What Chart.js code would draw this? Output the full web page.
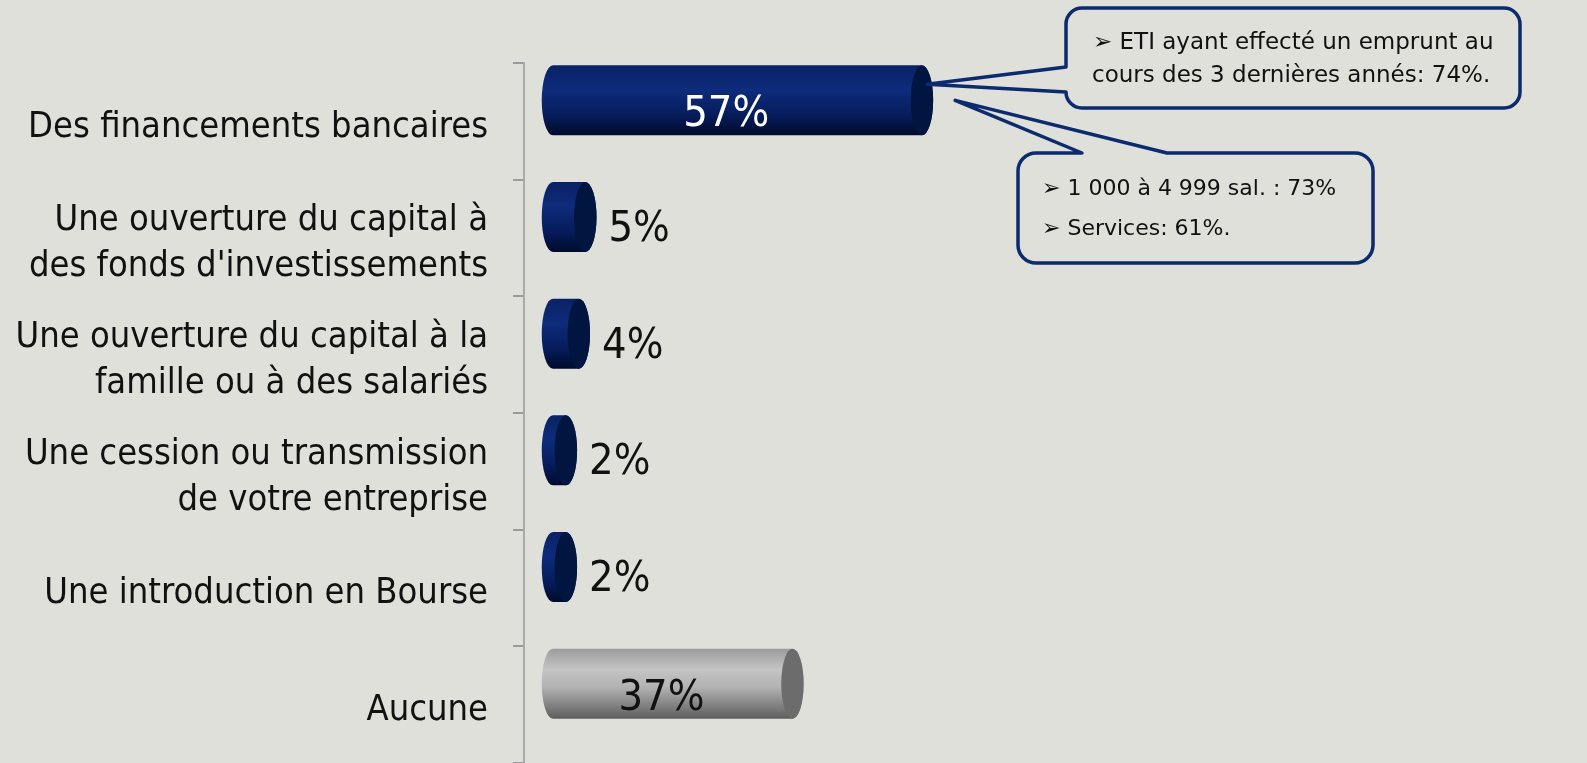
<!DOCTYPE html>
<html lang="fr">
<head>
<meta charset="utf-8">
<title>Financements</title>
<script src="https://cdn.jsdelivr.net/npm/chart.js@4.4.1/dist/chart.umd.min.js"></script>
<style>
    html, body { margin: 0; padding: 0; background: #dfe0da; }
    #wrap { width: 1587px; height: 763px; }
</style>
</head>
<body>
<div id="wrap"><canvas id="chart" width="1587" height="763"></canvas></div>
<script>
const categories = [
    'Des financements bancaires',
    ["Une ouverture du capital à", "des fonds d'investissements"],
    ['Une ouverture du capital à la', 'famille ou à des salariés'],
    ['Une cession ou transmission', 'de votre entreprise'],
    'Une introduction en Bourse',
    'Aucune'
];
const values = [57, 5, 4, 2, 2, 37];

const calloutTop = ['➢ ETI ayant effecté un emprunt au', 'cours des 3 dernières annés: 74%.'];
const calloutBottom = ['➢ 1 000 à 4 999 sal. : 73%', '➢ Services: 61%.'];

const BG = '#dfe0da';
const NAVY_EDGE = '#0c2a6e';
const FONT = '"DejaVu Sans Condensed", "DejaVu Sans", sans-serif';
const NOTE_FONT = '"DejaVu Sans", sans-serif';

function cylinderFill(ctx, top, h, grey) {
    const g = ctx.createLinearGradient(0, top, 0, top + h);
    if (grey) {
        g.addColorStop(0, '#9c9c9c');
        g.addColorStop(0.3, '#c4c4c4');
        g.addColorStop(0.55, '#b2b2b2');
        g.addColorStop(1, '#5e5e5e');
    } else {
        g.addColorStop(0, '#0a2264');
        g.addColorStop(0.35, '#0e2c7c');
        g.addColorStop(0.7, '#061c5c');
        g.addColorStop(1, '#000b2c');
    }
    return g;
}

// draws each bar as a horizontal cylinder, plus its value label
const cylinders = {
    id: 'cylinders',
    afterDatasetsDraw(chart) {
        const ctx = chart.ctx;
        const meta = chart.getDatasetMeta(0);
        meta.data.forEach((bar, i) => {
            const p = bar.getProps(['x', 'y', 'base', 'height'], true);
            const grey = i === categories.length - 1;
            const h = p.height;
            const ry = h / 2;
            const rx = h * 0.16;
            const cy = p.y - h * 0.3;
            const top = cy - ry;
            const left = p.base - 2 * rx;
            const right = p.x;

            ctx.save();
            ctx.beginPath();
            ctx.moveTo(left + rx, top);
            ctx.lineTo(right - rx, top);
            ctx.ellipse(right - rx, cy, rx, ry, 0, -Math.PI / 2, Math.PI / 2);
            ctx.lineTo(left + rx, top + h);
            ctx.ellipse(left + rx, cy, rx, ry, 0, Math.PI / 2, Math.PI * 1.5);
            ctx.closePath();
            ctx.fillStyle = cylinderFill(ctx, top, h, grey);
            ctx.fill();

            ctx.beginPath();
            ctx.ellipse(right - rx, cy, rx, ry, 0, 0, Math.PI * 2);
            ctx.fillStyle = grey ? '#6c6c6c' : '#00153f';
            ctx.fill();

            const v = values[i];
            ctx.font = '43px ' + FONT;
            ctx.textBaseline = 'alphabetic';
            if (v > 20) {
                ctx.textAlign = 'center';
                ctx.fillStyle = grey ? '#111111' : '#ffffff';
                ctx.fillText(v + '%', (left + right - 2 * rx) / 2, cy + 26);
            } else {
                ctx.textAlign = 'left';
                ctx.fillStyle = '#111111';
                ctx.fillText(v + '%', right + 12, cy + 24);
            }
            ctx.restore();
        });
    }
};

function bubble(ctx, box, wedge, tip) {
    const {l, t, r, b, rad} = box;
    ctx.beginPath();
    if (wedge.side === 'left') {
        ctx.moveTo(l + rad, t);
        ctx.lineTo(r - rad, t);
        ctx.arcTo(r, t, r, t + rad, rad);
        ctx.lineTo(r, b - rad);
        ctx.arcTo(r, b, r - rad, b, rad);
        ctx.lineTo(l + rad, b);
        ctx.arcTo(l, b, l, b - rad, rad);
        ctx.lineTo(l, wedge.b);
        ctx.lineTo(tip.x, tip.y);
        ctx.lineTo(l, wedge.a);
        ctx.lineTo(l, t + rad);
        ctx.arcTo(l, t, l + rad, t, rad);
    } else {
        ctx.moveTo(l + rad, t);
        ctx.lineTo(wedge.a, t);
        ctx.lineTo(tip.x, tip.y);
        ctx.lineTo(wedge.b, t);
        ctx.lineTo(r - rad, t);
        ctx.arcTo(r, t, r, t + rad, rad);
        ctx.lineTo(r, b - rad);
        ctx.arcTo(r, b, r - rad, b, rad);
        ctx.lineTo(l + rad, b);
        ctx.arcTo(l, b, l, b - rad, rad);
        ctx.lineTo(l, t + rad);
        ctx.arcTo(l, t, l + rad, t, rad);
    }
    ctx.closePath();
    ctx.fillStyle = BG;
    ctx.fill();
    ctx.lineWidth = 3.5;
    ctx.lineJoin = 'round';
    ctx.strokeStyle = NAVY_EDGE;
    ctx.stroke();
}

// the two comment boxes pointing to the first bar
const callouts = {
    id: 'callouts',
    afterDraw(chart) {
        const ctx = chart.ctx;
        const bar = chart.getDatasetMeta(0).data[0];
        const p = bar.getProps(['x', 'y', 'height'], true);
        const cy = p.y - p.height * 0.3;
        ctx.save();
        bubble(ctx, {l: 1018, t: 153, r: 1373, b: 263, rad: 18},
            {side: 'top', a: 1082, b: 1167}, {x: p.x + 22, y: cy});
        bubble(ctx, {l: 1066, t: 8, r: 1520, b: 108, rad: 16},
            {side: 'left', a: 67, b: 92}, {x: p.x - 6, y: cy - 16});

        ctx.fillStyle = '#111111';
        ctx.font = '23px ' + NOTE_FONT;
        ctx.textAlign = 'left';
        ctx.textBaseline = 'alphabetic';
        ctx.fillText(calloutTop[0], 1093, 49);
        ctx.fillText(calloutTop[1], 1092, 82);
        ctx.font = '22px ' + NOTE_FONT;
        ctx.fillText(calloutBottom[0], 1042, 195);
        ctx.fillText(calloutBottom[1], 1042, 235);
        ctx.restore();
    }
};

function renderChart() {
    const ctx = document.getElementById('chart').getContext('2d');
    return new Chart(ctx, {
        type: 'bar',
        data: {
            labels: categories,
            datasets: [{
                data: values,
                backgroundColor: 'rgba(0,0,0,0)',
                borderWidth: 0,
                barPercentage: 0.6,
                categoryPercentage: 1
            }]
        },
        options: {
            indexAxis: 'y',
            responsive: false,
            devicePixelRatio: 1,
            animation: false,
            layout: {padding: {top: 63, right: 0, bottom: 0, left: 0}},
            plugins: {legend: {display: false}, tooltip: {enabled: false}},
            scales: {
                x: {type: 'linear', min: -6.2, max: 158, display: false},
                y: {
                    grid: {offset: true, drawOnChartArea: false, tickLength: 11, color: '#9a9a9a', lineWidth: 2},
                    border: {display: true, color: '#a9a9a9', width: 2},
                    ticks: {
                        color: '#111111',
                        padding: 25,
                        labelOffset: 6,
                        font: {family: FONT, size: 36, lineHeight: 1.27}
                    },
                    afterFit(axis) {
                        axis.width = 524;
                        axis.paddingTop = 0;
                        axis.paddingBottom = 0;
                    }
                }
            }
        },
        plugins: [cylinders, callouts]
    });
}

renderChart();
</script>
</body>
</html>
